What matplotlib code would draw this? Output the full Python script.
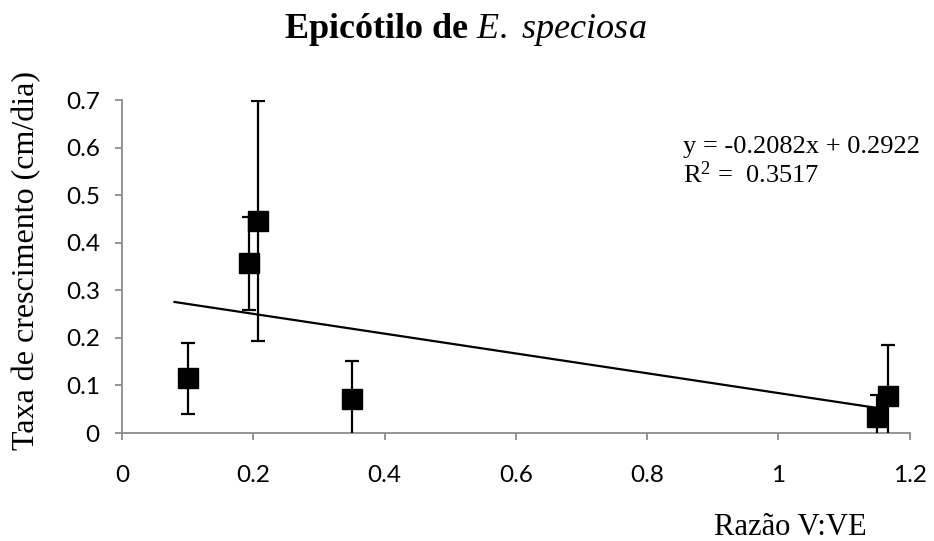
import numpy as np
import matplotlib.pyplot as plt

# Data
razao = [0.10, 0.193, 0.207, 0.35, 1.15, 1.167]
taxa = [0.115, 0.357, 0.446, 0.071, 0.034, 0.078]
erro = [0.075, 0.098, 0.253, 0.08, 0.046, 0.107]
slope, intercept = -0.2082, 0.2922
trend_x = [0.08, 1.15]

plt.rcParams['font.family'] = ['Liberation Serif', 'DejaVu Serif']
plt.rcParams['mathtext.fontset'] = 'custom'
plt.rcParams['mathtext.rm'] = 'Liberation Serif'
plt.rcParams['mathtext.it'] = 'Liberation Serif:italic'
plt.rcParams['mathtext.bf'] = 'Liberation Serif:bold'

fig = plt.figure(figsize=(9.34, 5.41), dpi=100)
ax = fig.add_axes([0.1306, 0.1996, 0.8434, 0.6154])

# trend line
tx = np.array(trend_x)
ax.plot(tx, slope * tx + intercept, color='black', lw=1.6, zorder=2)

ax.errorbar(razao, taxa, yerr=erro, fmt='s', color='black', ms=14,
            ecolor='black', elinewidth=1.6, capsize=5, capthick=1.6, zorder=3)

ax.set_xlim(0, 1.2)
ax.set_ylim(0, 0.7)
ax.set_xticks([0, 0.2, 0.4, 0.6, 0.8, 1, 1.2])
ax.set_xticklabels(['0', '0.2', '0.4', '0.6', '0.8', '1', '1.2'])
ax.set_yticks(np.arange(0, 0.71, 0.1))
ax.set_yticklabels(['0', '0.1', '0.2', '0.3', '0.4', '0.5', '0.6', '0.7'])

for s in ['top', 'right']:
    ax.spines[s].set_visible(False)
for s in ['left', 'bottom']:
    ax.spines[s].set_color('#8c8c8c')
    ax.spines[s].set_linewidth(1.3)
ax.tick_params(axis='both', color='#8c8c8c', width=1.3, length=5, labelsize=17.5)
ax.tick_params(axis='x', pad=18)
ax.tick_params(axis='y', pad=11)
for lab in ax.get_xticklabels() + ax.get_yticklabels():
    lab.set_family(['Lato', 'DejaVu Sans'])

fig.text(0.028, 0.519, 'Taxa de crescimento (cm/dia)', fontsize=23,
         rotation=90, ha='center', va='center')
fig.text(0.928, 0.011, 'Razão V:VE', fontsize=22, ha='right', va='baseline')

fig.text(0.498, 0.93, r'Epicótilo de $\mathit{E.\ speciosa}$', fontsize=26,
         fontweight='bold', ha='center', va='baseline')

fig.text(0.731, 0.717, 'y = -0.2082x + 0.2922', fontsize=19, ha='left')
fig.text(0.731, 0.662, 'R$^2$ =  0.3517', fontsize=19, ha='left')

fig.savefig('out.png', dpi=100)
